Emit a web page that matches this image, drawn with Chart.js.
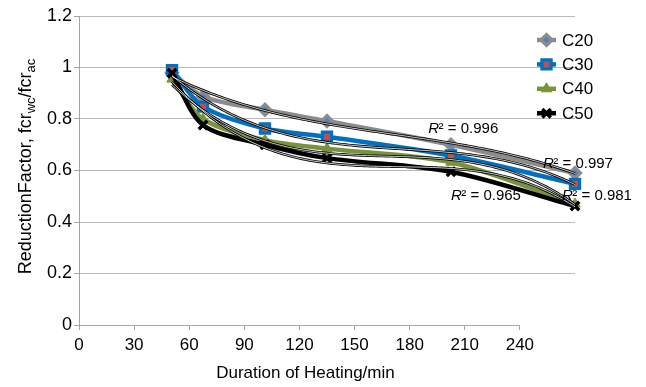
<!DOCTYPE html>
<html>
<head>
<meta charset="utf-8">
<script src="https://cdn.jsdelivr.net/npm/chart.js@4.4.1/dist/chart.umd.min.js"></script>
<style>
  html, body { margin: 0; padding: 0; background: #ffffff; }
  #wrap { width: 646px; height: 387px; position: relative; }
</style>
</head>
<body>
<div id="wrap"><canvas id="chart" width="646" height="387"></canvas></div>
<script>
// Heating duration (min) and reduction factor for each concrete grade
const durations = [45, 60, 90, 120, 180, 240];
const c20 = [0.98, 0.887, 0.836, 0.792, 0.70, 0.59];
const c30 = [0.99, 0.848, 0.763, 0.731, 0.658, 0.548];
const c40 = [0.955, 0.80, 0.718, 0.685, 0.632, 0.47];
const c50 = [0.978, 0.777, 0.70, 0.648, 0.595, 0.462];
const seriesNames = ['C20', 'C30', 'C40', 'C50'];

// Axis tick labels
const xTickValues = [0, 30, 60, 90, 120, 150, 180, 210, 240];
const yTickValues = [0, 0.2, 0.4, 0.6, 0.8, 1, 1.2];

// Coefficients of determination printed beside the trend lines
const r2Texts = ['0.996', '0.997', '0.965', '0.981'];

const FONT = "'Liberation Sans', Arial, Helvetica, sans-serif";
const TREND_ORDER = 3;

const seriesValues = [c20, c30, c40, c50];
const seriesStyles = [
  { color: '#8c8c8c', pointStyle: 'rectRot',  radius: 5.5, fill: '#4f81bd', border: '#8c8c8c', bw: 3.2 },
  { color: '#0070c0', pointStyle: 'rect',     radius: 6.5, fill: '#c0504d', border: '#0070c0', bw: 3.2 },
  { color: '#77933c', pointStyle: 'triangle', radius: 6,   fill: '#77933c', border: '#77933c', bw: 1 },
  { color: '#000000', pointStyle: 'crossRot', radius: 6,   fill: '#000000', border: '#000000', bw: 3.5 }
];

// Least-squares polynomial trend line
function polyFit(xs, ys, order) {
  const n = order + 1;
  const t = xs.map(x => (x - 140) / 100);
  const A = Array.from({ length: n }, () => new Array(n + 1).fill(0));
  for (let k = 0; k < xs.length; k++) {
    for (let i = 0; i < n; i++) {
      for (let j = 0; j < n; j++) A[i][j] += Math.pow(t[k], i + j);
      A[i][n] += ys[k] * Math.pow(t[k], i);
    }
  }
  for (let i = 0; i < n; i++) {
    let p = i;
    for (let r = i + 1; r < n; r++) if (Math.abs(A[r][i]) > Math.abs(A[p][i])) p = r;
    const tmp = A[i]; A[i] = A[p]; A[p] = tmp;
    for (let r = 0; r < n; r++) {
      if (r === i) continue;
      const f = A[r][i] / A[i][i];
      for (let c = i; c <= n; c++) A[r][c] -= f * A[i][c];
    }
  }
  const coef = A.map((row, i) => row[n] / row[i]);
  return x => {
    const tt = (x - 140) / 100;
    return coef.reduce((s, c, i) => s + c * Math.pow(tt, i), 0);
  };
}

function trendPoints(values) {
  const f = polyFit(durations, values, TREND_ORDER);
  const pts = [];
  const x0 = durations[0], x1 = durations[durations.length - 1];
  for (let x = x0; x <= x1 + 1e-9; x += 1.5) pts.push({ x: x, y: f(x) });
  return pts;
}

const datasets = [];
seriesValues.forEach((vals, i) => {
  const s = seriesStyles[i];
  datasets.push({
    label: seriesNames[i],
    data: durations.map((d, k) => ({ x: d, y: vals[k] })),
    xAxisID: 'xData',
    borderColor: s.color,
    backgroundColor: s.color,
    borderWidth: 4.5,
    tension: 0.3,
    pointStyle: s.pointStyle,
    pointRadius: s.radius,
    pointBackgroundColor: s.fill,
    pointBorderColor: s.border,
    pointBorderWidth: s.bw,
    clip: false,
    order: 4 - i
  });
});
// Trend lines: black outline with a white core, drawn above the series
seriesValues.forEach((vals, i) => {
  const pts = trendPoints(vals);
  datasets.push({
    label: 'trend-' + seriesNames[i],
    data: pts, xAxisID: 'xData',
    borderColor: '#000000', borderWidth: 2.6,
    pointRadius: 0, tension: 0, clip: false, order: -2
  });
  datasets.push({
    label: 'trend-core-' + seriesNames[i],
    data: pts, xAxisID: 'xData',
    borderColor: '#ffffff', borderWidth: 0.8,
    pointRadius: 0, tension: 0, clip: false, order: -3
  });
});

const decorations = {
  id: 'decorations',
  beforeDatasetsDraw(chart) {
    const ctx = chart.ctx;
    const xs = chart.scales.x, ys = chart.scales.y;
    // x axis line, only across the labelled range
    ctx.save();
    ctx.strokeStyle = '#a6a6a6';
    ctx.lineWidth = 1;
    ctx.beginPath();
    const yy = Math.round(ys.getPixelForValue(0)) + 0.5;
    ctx.moveTo(xs.getPixelForValue(xTickValues[0]), yy);
    ctx.lineTo(xs.getPixelForValue(xTickValues[xTickValues.length - 1]), yy);
    ctx.stroke();
    ctx.restore();
  },
  afterDatasetsDraw(chart) {
    const ctx = chart.ctx;
    const area = chart.chartArea;
    const xd = chart.scales.xData, ys = chart.scales.y, xs = chart.scales.x;

    // R² labels next to the trend lines
    const r2Anchors = [[169, 0.763], [224.5, 0.627], [180, 0.502], [233.7, 0.502]];
    ctx.save();
    ctx.fillStyle = '#000';
    ctx.textBaseline = 'middle';
    ctx.textAlign = 'left';
    r2Texts.forEach((txt, i) => {
      let px = xd.getPixelForValue(r2Anchors[i][0]);
      const py = ys.getPixelForValue(r2Anchors[i][1]);
      ctx.font = 'italic 15px ' + FONT;
      ctx.fillText('R', px, py);
      px += ctx.measureText('R').width - 0.5;
      ctx.font = '15px ' + FONT;
      ctx.fillText('\u00B2 = ' + txt, px, py);
    });
    ctx.restore();

    // Legend
    ctx.save();
    const lx0 = area.right - 38, lx1 = area.right - 19, tx = area.right - 13;
    seriesNames.forEach((name, i) => {
      const s = seriesStyles[i];
      const y = area.top + 24 + i * 24.4;
      ctx.strokeStyle = s.color;
      ctx.lineWidth = 4.5;
      ctx.beginPath();
      ctx.moveTo(lx0, y); ctx.lineTo(lx1, y);
      ctx.stroke();
      ctx.fillStyle = s.fill;
      ctx.strokeStyle = s.border;
      ctx.lineWidth = s.bw;
      Chart.helpers.drawPoint(ctx, { pointStyle: s.pointStyle, radius: s.radius, rotation: 0, borderWidth: s.bw }, (lx0 + lx1) / 2, y);
      ctx.fillStyle = '#000';
      ctx.font = '17px ' + FONT;
      ctx.textBaseline = 'middle';
      ctx.textAlign = 'left';
      ctx.fillText(name, tx, y + 1);
    });
    ctx.restore();

    // Axis titles
    ctx.save();
    ctx.fillStyle = '#000';
    ctx.textBaseline = 'middle';
    ctx.textAlign = 'center';
    ctx.font = '17px ' + FONT;
    const axisMid = (xs.getPixelForValue(xTickValues[0]) + xs.getPixelForValue(xTickValues[xTickValues.length - 1])) / 2;
    ctx.fillText('Duration of Heating/min', axisMid + 6, area.bottom + 48);
    ctx.restore();

    // Vertical title with subscripts
    const parts = [
      { t: 'ReductionFactor, fcr', size: 18, dy: 0 },
      { t: 'wc', size: 13, dy: 5 },
      { t: '/fcr', size: 18, dy: 0 },
      { t: 'ac', size: 13, dy: 5 }
    ];
    ctx.save();
    ctx.fillStyle = '#000';
    ctx.textBaseline = 'middle';
    ctx.textAlign = 'left';
    let total = 0;
    parts.forEach(p => { ctx.font = p.size + 'px ' + FONT; p.w = ctx.measureText(p.t).width; total += p.w; });
    ctx.translate(area.left - 53, (area.top + area.bottom) / 2 - 4);
    ctx.rotate(-Math.PI / 2);
    let cx = -total / 2;
    parts.forEach(p => {
      ctx.font = p.size + 'px ' + FONT;
      ctx.fillText(p.t, cx, p.dy);
      cx += p.w;
    });
    ctx.restore();
  }
};

new Chart(document.getElementById('chart'), {
  type: 'line',
  data: { datasets: datasets },
  options: {
    responsive: false,
    animation: false,
    devicePixelRatio: 1,
    layout: { padding: { top: 16, right: 71, bottom: 0, left: 0 } },
    plugins: { legend: { display: false }, tooltip: { enabled: false } },
    scales: {
      x: {
        type: 'linear', position: 'bottom', min: 0, max: 270,
        afterBuildTicks: axis => { axis.ticks = xTickValues.map(v => ({ value: v })); },
        afterFit: axis => { axis.height = 62; },
        border: { display: false },
        grid: { drawOnChartArea: false, drawTicks: true, tickLength: 5, color: '#a6a6a6' },
        ticks: { font: { family: FONT, size: 17 }, color: '#000', padding: 5, maxRotation: 0,
                 callback: v => String(v) }
      },
      xData: { type: 'linear', min: 0, max: 240, display: false },
      y: {
        min: 0, max: 1.2,
        afterBuildTicks: axis => { axis.ticks = yTickValues.map(v => ({ value: v })); },
        afterFit: axis => { axis.width = 79; },
        border: { display: true, color: '#a6a6a6', width: 1 },
        grid: {
          color: c => (c.tick && c.tick.value === 0) ? 'rgba(0,0,0,0)' : '#b8b8b8',
          tickColor: '#a6a6a6', tickLength: 5, lineWidth: 1
        },
        ticks: { font: { family: FONT, size: 18 }, color: '#000', padding: 2,
                 callback: v => String(parseFloat(Number(v).toFixed(1))) }
      }
    }
  },
  plugins: [decorations]
});
</script>
</body>
</html>
